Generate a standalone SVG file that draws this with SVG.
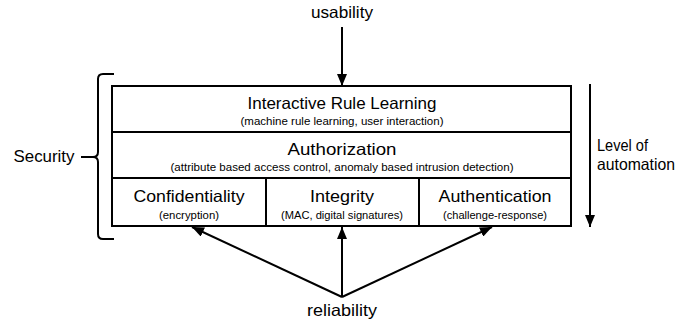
<svg xmlns="http://www.w3.org/2000/svg" width="693" height="325" viewBox="0 0 693 325">
<style>
.box{fill:#fff;stroke:#000;stroke-width:2}
.t{font-family:"Liberation Sans",Arial,sans-serif;fill:#000;text-anchor:middle}
.big{font-size:16.5px}
.small{font-size:10.8px}
.lab{font-size:16.5px}
.conn{stroke:#000;stroke-width:2;fill:none}
</style>
<defs>
<marker id="ah" viewBox="0 0 12 10" refX="12" refY="5" markerWidth="6" markerHeight="5" orient="auto" markerUnits="strokeWidth">
<path d="M0,0 L12,5 L0,10 z" fill="#000"/>
</marker>
</defs>
<g id="irl">
<rect class="box" x="112" y="86" width="459" height="46"/>
<text class="t big" x="342" y="109" textLength="189" lengthAdjust="spacingAndGlyphs">Interactive Rule Learning</text>
<text class="t small" x="342" y="125" textLength="203" lengthAdjust="spacingAndGlyphs">(machine rule learning, user interaction)</text>
</g>
<g id="authz">
<rect class="box" x="112" y="132" width="459" height="46"/>
<text class="t big" x="342" y="155" textLength="109" lengthAdjust="spacingAndGlyphs">Authorization</text>
<text class="t small" x="342" y="171" textLength="343" lengthAdjust="spacingAndGlyphs">(attribute based access control, anomaly based intrusion detection)</text>
</g>
<g id="conf">
<rect class="box" x="112" y="178" width="154" height="48"/>
<text class="t big" x="189" y="202" textLength="111" lengthAdjust="spacingAndGlyphs">Confidentiality</text>
<text class="t small" x="189" y="219" textLength="60" lengthAdjust="spacingAndGlyphs">(encryption)</text>
</g>
<g id="integ">
<rect class="box" x="266" y="178" width="153" height="48"/>
<text class="t big" x="342" y="202" textLength="64" lengthAdjust="spacingAndGlyphs">Integrity</text>
<text class="t small" x="342" y="219" textLength="122" lengthAdjust="spacingAndGlyphs">(MAC, digital signatures)</text>
</g>
<g id="authn">
<rect class="box" x="419" y="178" width="152" height="48"/>
<text class="t big" x="495" y="202" textLength="113" lengthAdjust="spacingAndGlyphs">Authentication</text>
<text class="t small" x="495" y="219" textLength="104" lengthAdjust="spacingAndGlyphs">(challenge-response)</text>
</g>
<g id="security">
<path class="conn" d="M114,74 L103,74 Q98,74 98,79 L98,152 Q98,157 93,157 Q98,157 98,162 L98,234 Q98,239 103,239 L114,239"/>
<line class="conn" x1="81" y1="157" x2="93" y2="157"/>
<text class="t lab" x="44" y="162" textLength="61" lengthAdjust="spacingAndGlyphs">Security</text>
</g>
<g id="usability">
<text class="t lab" x="342" y="18" textLength="62" lengthAdjust="spacingAndGlyphs">usability</text>
</g>
<g id="reliability">
<text class="t lab" x="342" y="316" textLength="70" lengthAdjust="spacingAndGlyphs">reliability</text>
</g>
<g id="automation">
<text class="t lab" x="597" y="151" style="text-anchor:start" textLength="51" lengthAdjust="spacingAndGlyphs">Level of</text>
<text class="t lab" x="597" y="170" style="text-anchor:start" textLength="78" lengthAdjust="spacingAndGlyphs">automation</text>
</g>
<g id="connectors">
<line class="conn" x1="342" y1="27" x2="342" y2="86" marker-end="url(#ah)"/>
<line class="conn" x1="590" y1="84" x2="590" y2="227" marker-end="url(#ah)"/>
<line class="conn" x1="342" y1="297" x2="342" y2="227" marker-end="url(#ah)"/>
<line class="conn" x1="342" y1="297" x2="192" y2="227" marker-end="url(#ah)"/>
<line class="conn" x1="342" y1="297" x2="492" y2="227" marker-end="url(#ah)"/>
</g>
</svg>
